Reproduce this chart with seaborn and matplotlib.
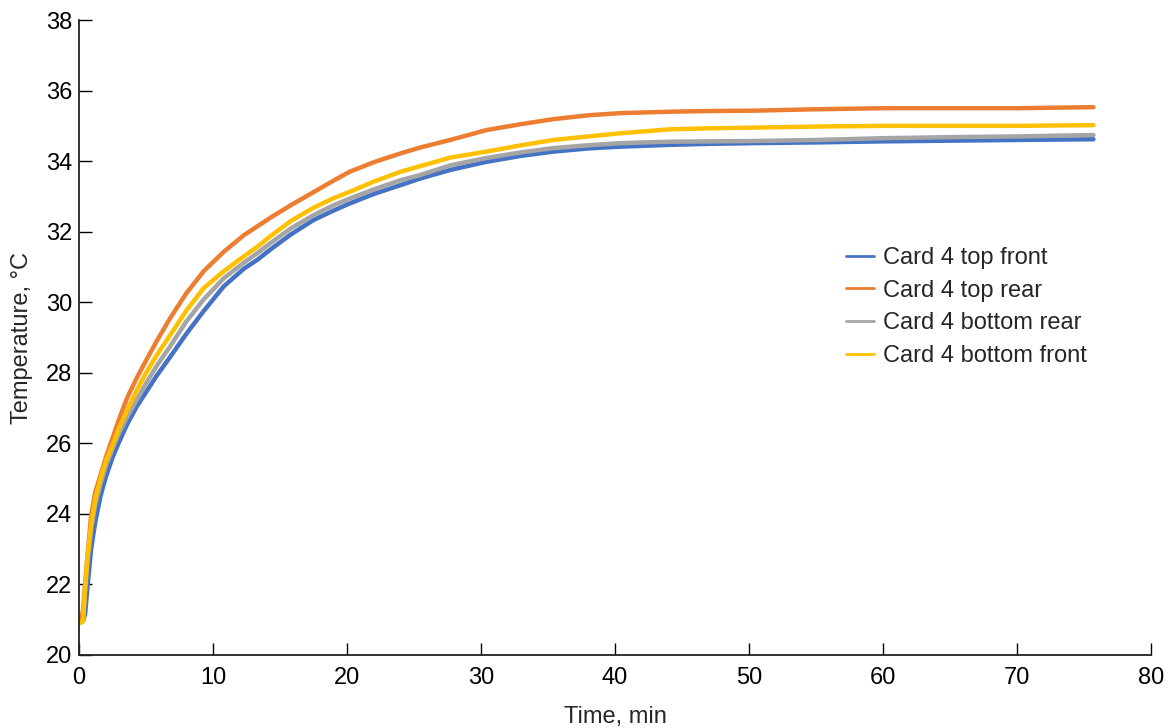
import pandas as pd
import matplotlib.pyplot as plt
import seaborn as sns

# readings taken off the chart (time in minutes, temperature in deg C)
time_min = [0, 0.15, 0.3, 0.45, 0.65, 0.9, 1.2, 1.6, 2.0, 2.5, 3.0, 3.6, 4.3, 5.0, 5.8,
            6.8, 8.0, 9.3, 10.8, 12.3, 13.3, 14.3, 15.8, 17.5, 19.0, 20.2, 22.0, 24.0,
            25.4, 27.7, 30.4, 33.0, 35.4, 38.0, 40.4, 44.0, 47.0, 50.3, 55.0, 60.0, 65.0,
            70.0, 75.7]

top_front = [20.95, 20.95, 20.97, 21.15, 22.0, 23.0, 23.75, 24.5, 25.05, 25.6, 26.05, 26.55,
             27.04, 27.45, 27.92, 28.45, 29.1, 29.75, 30.45, 30.95, 31.2, 31.5, 31.92, 32.33,
             32.6, 32.8, 33.07, 33.32, 33.5, 33.75, 33.98, 34.15, 34.27, 34.36, 34.41,
             34.46, 34.49, 34.51, 34.53, 34.56, 34.58, 34.6, 34.62]
top_rear = [20.95, 20.95, 21.3, 22.0, 22.9, 23.95, 24.6, 25.1, 25.6, 26.15, 26.7, 27.3,
            27.85, 28.35, 28.9, 29.55, 30.25, 30.88, 31.43, 31.9, 32.15, 32.4, 32.75, 33.12,
            33.45, 33.7, 33.97, 34.22, 34.38, 34.6, 34.88, 35.05, 35.19, 35.3, 35.36, 35.4,
            35.42, 35.43, 35.47, 35.5, 35.5, 35.5, 35.53]
bottom_rear = [20.92, 20.92, 20.97, 21.8, 22.7, 23.55, 24.25, 24.85, 25.35, 25.85, 26.3,
               26.75, 27.23, 27.7, 28.2, 28.75, 29.45, 30.08, 30.68, 31.12, 31.39, 31.68,
               32.09, 32.47, 32.75, 32.94, 33.2, 33.46, 33.6, 33.88, 34.09, 34.25, 34.37,
               34.45, 34.51, 34.55, 34.56, 34.57, 34.6, 34.65, 34.68, 34.7, 34.74]
bottom_front = [20.92, 20.92, 20.97, 21.9, 22.85, 23.7, 24.4, 25.0, 25.5, 25.95, 26.45,
                26.95, 27.5, 28.0, 28.5, 29.07, 29.76, 30.4, 30.88, 31.3, 31.57, 31.88,
                32.3, 32.68, 32.95, 33.13, 33.42, 33.7, 33.85, 34.1, 34.27, 34.45, 34.6,
                34.7, 34.79, 34.9, 34.93, 34.95, 34.98, 35.0, 35.0, 35.0, 35.02]

labels = ['Card 4 top front', 'Card 4 top rear', 'Card 4 bottom rear', 'Card 4 bottom front']
colors = ['#4472C4', '#ED7D31', '#A5A5A5', '#FFC000']

series = [top_front, top_rear, bottom_rear, bottom_front]
frames = []
for lab, vals in zip(labels, series):
    frames.append(pd.DataFrame({'Time': time_min, 'Temp': vals, 'Sensor': lab}))
df = pd.concat(frames, ignore_index=True)

sns.set_style('ticks')
plt.rcParams['font.family'] = ['Liberation Sans', 'DejaVu Sans']

fig = plt.figure(figsize=(11.71, 7.28), dpi=100)
ax = fig.add_axes([0.0675, 0.1003, 0.9155, 0.8722])

sns.lineplot(data=df, x='Time', y='Temp', hue='Sensor', hue_order=labels,
             palette=dict(zip(labels, colors)), linewidth=3.2, ax=ax)

ax.set_xlim(0, 80)
ax.set_ylim(20, 38)
ax.set_xticks(range(0, 81, 10))
ax.set_yticks(range(20, 39, 2))
ax.set_xlabel('Time, min', fontsize=17, labelpad=12)
ax.set_ylabel('Temperature, °C', fontsize=17, labelpad=9)
ax.tick_params(direction='in', length=9, width=1, labelsize=17, colors='black')
ax.tick_params(axis='x', pad=9)
ax.tick_params(axis='y', pad=5)
sns.despine(ax=ax)
for s in ['left', 'bottom']:
    ax.spines[s].set_linewidth(1.3)
    ax.spines[s].set_color('#222222')

handles, _ = ax.get_legend_handles_labels()
for h in handles:
    h.set_linewidth(2)
ax.legend(handles, labels, loc='center left', bbox_to_anchor=(0.696, 0.548), frameon=False,
          fontsize=17, handlelength=1.15, handletextpad=0.4, labelspacing=0.45)

plt.savefig('out.png', dpi=100)
